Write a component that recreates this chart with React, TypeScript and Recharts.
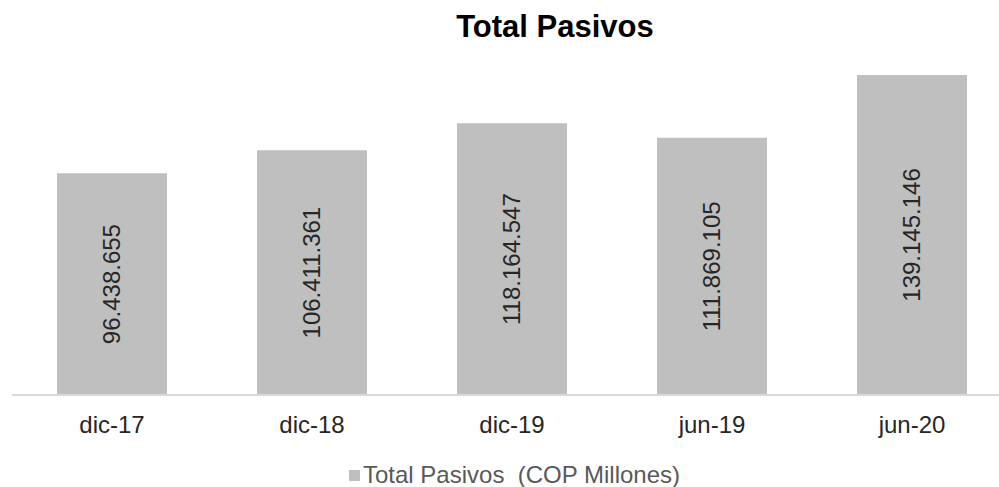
import React from 'react'
import { Bar, BarChart, LabelList, XAxis, YAxis } from 'recharts'

const periods = ['dic-17', 'dic-18', 'dic-19', 'jun-19', 'jun-20']
const totalPasivos = [96438655, 106411361, 118164547, 111869105, 139145146]

const data = periods.map((p, i) => ({ period: p, total: totalPasivos[i] }))

const FONT = '"Liberation Sans", Arial, sans-serif'
const BAR = '#bfbfbf'

// 96438655 -> 96.438.655
const fmt = (v: number) => String(v).replace(/\B(?=(\d{3})+(?!\d))/g, '.')

const VerticalLabel = (props: any) => {
    const { x, y, width, height, value } = props
    const cx = Number(x) + Number(width) / 2
    const cy = Number(y) + Number(height) / 2
    return (
        <text
            x={cx}
            y={cy}
            transform={`rotate(-90, ${cx}, ${cy})`}
            textAnchor="middle"
            dominantBaseline="central"
            fill="#262626"
            fontSize={24}
            fontFamily={FONT}
        >
            {fmt(Number(value))}
        </text>
    )
}

export default function App() {
    return (
        <div
            style={{
                position: 'fixed',
                left: 0,
                top: 0,
                width: 999,
                height: 487,
                overflow: 'hidden',
                background: '#fff',
                fontFamily: FONT,
            }}
        >
            <div
                style={{
                    position: 'absolute',
                    left: 355,
                    width: 400,
                    top: 11,
                    textAlign: 'center',
                    fontSize: 31,
                    lineHeight: '31px',
                    fontWeight: 'bold',
                    color: '#000',
                }}
            >
                Total Pasivos
            </div>
            <BarChart
                width={1013}
                height={487}
                data={data}
                margin={{ top: 50, right: 1, bottom: 62, left: 12 }}
            >
                <XAxis
                    dataKey="period"
                    height={30}
                    axisLine={{ stroke: '#d9d9d9', strokeWidth: 2 }}
                    tickLine={false}
                    tickSize={0}
                    tickMargin={21}
                    interval={0}
                    tick={{ fill: '#262626', fontSize: 24, fontFamily: FONT }}
                />
                <YAxis hide domain={[0, 150000000]} />
                <Bar dataKey="total" fill={BAR} barSize={110} isAnimationActive={false}>
                    <LabelList dataKey="total" content={VerticalLabel} />
                </Bar>
            </BarChart>
            <div
                style={{
                    position: 'absolute',
                    left: 349,
                    top: 463,
                    display: 'flex',
                    alignItems: 'center',
                    fontSize: 24,
                    lineHeight: '24px',
                    color: '#595959',
                    whiteSpace: 'pre',
                }}
            >
                <span style={{ display: 'inline-block', width: 11, height: 11, background: BAR, marginRight: 3 }} />
                <span>Total Pasivos  (COP Millones)</span>
            </div>
        </div>
    )
}
